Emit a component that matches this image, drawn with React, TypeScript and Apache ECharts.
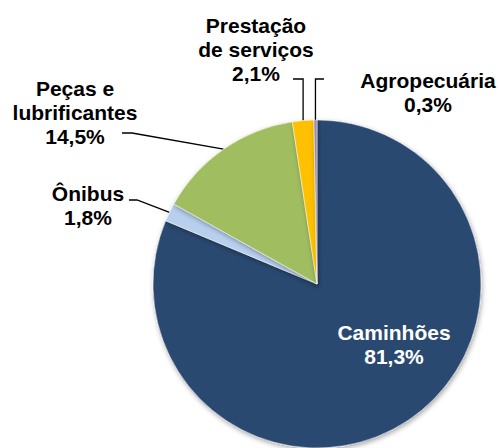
import React, { useEffect, useRef } from "react";
import * as echarts from "echarts";

const categories = ["Caminhões", "Ônibus", "Peças e\nlubrificantes", "Prestação\nde serviços", "Agropecuária"];
const shares = [81.3, 1.8, 14.5, 2.1, 0.3];
const colors = ["#2C4870", "#B8D0EE", "#A0BE5E", "#FFC000", "#9A8CAE"];

// label block centres (px) and leader-line anchors near the label
const labelPos: [number, number][] = [
  [394, 344],
  [88, 205],
  [75, 112],
  [256, 49],
  [428, 92],
];
const lineEnds: ([number, number] | null)[] = [null, [129, 200], [122, 133], [293, 79], [324, 79]];
const elbows: ([number | null, number] | null)[] = [null, [137, 200], [132, 133], [null, 79], [null, 79]];

export default function App() {
  const ref = useRef<HTMLDivElement>(null);
  useEffect(() => {
    if (!ref.current) return;
    const chart = echarts.init(ref.current, undefined, { renderer: "svg" });
    chart.setOption({
      animation: false,
      backgroundColor: "#ffffff",
      series: [
        {
          type: "pie",
          center: [317, 284],
          radius: 164,
          startAngle: 90,
          clockwise: true,
          avoidLabelOverlap: false,
          itemStyle: {
            borderColor: "rgba(255,255,255,0.6)",
            borderWidth: 0.8,
            shadowBlur: 5,
            shadowColor: "rgba(0,0,0,0.35)",
            shadowOffsetX: 1,
            shadowOffsetY: 2,
          },
          label: {
            show: true,
            position: "outside",
            formatter: (p: any) => p.name + "\n" + Number(p.value).toFixed(1).replace(".", ",") + "%",
            fontFamily: "'Liberation Sans', Arial, sans-serif",
            fontWeight: "bold",
            fontSize: 21,
            lineHeight: 24,
            color: "#000",
            align: "center",
          },
          labelLine: {
            show: true,
            length: 10,
            length2: 10,
            lineStyle: { color: "#000", width: 1.3 },
          },
          labelLayout: (params: any) => {
            const i = params.dataIndex;
            const [x, y] = labelPos[i];
            const res: any = { x, y, align: "center", verticalAlign: "middle" };
            const pts = params.labelLinePoints;
            if (pts && lineEnds[i] && elbows[i]) {
              const edge = pts[0];
              const el = elbows[i]!;
              const elbow = [el[0] == null ? edge[0] : el[0], el[1]];
              res.labelLinePoints = [edge, elbow, lineEnds[i]];
            }
            return res;
          },
          data: categories.map((name, i) => ({
            name,
            value: shares[i],
            itemStyle: { color: colors[i] },
            label: i === 0 ? { position: "inside", color: "#ffffff" } : undefined,
            labelLine: i === 0 ? { show: false } : undefined,
          })),
        },
      ],
    });
    return () => chart.dispose();
  }, []);
  return <div ref={ref} style={{ position: "fixed", left: 0, top: 0, width: 499, height: 448 }} />;
}
